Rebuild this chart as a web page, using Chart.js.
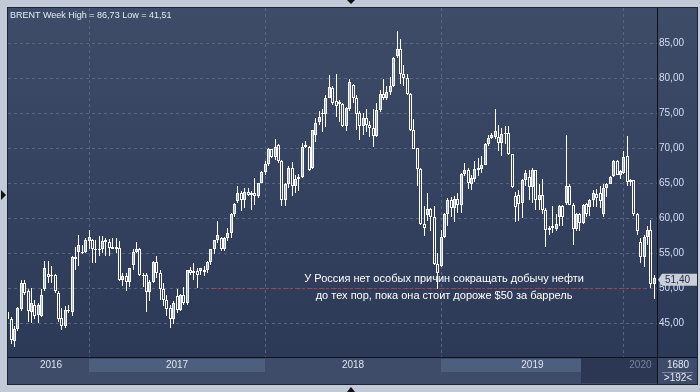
<!DOCTYPE html>
<html><head><meta charset="utf-8">
<script src="https://cdn.jsdelivr.net/npm/chart.js@4.4.1/dist/chart.umd.min.js"></script>
<style>html,body{margin:0;padding:0;background:#c2cad7;overflow:hidden}canvas{display:block}</style>
</head><body><canvas id="c" width="700" height="392"></canvas>
<script>
// ---- data (weekly BRENT candles) ----
const opens = [46.5,45.6,42.4,44.2,47.0,50.7,49.5,46.5,47.6,46.2,46.0,49.8,52.0,51.7,51.8,49.3,45.7,44.5,46.9,46.6,54.4,55.2,55.2,55.1,
56.7,56.9,55.5,55.6,55.5,56.8,56.5,55.6,55.9,55.7,51.2,51.7,50.9,53.3,55.2,55.6,51.9,51.9,49.4,50.8,53.7,52.1,49.9,48.3,47.1,45.6,48.9,46.9,49.0,47.8,52.6,52.2,52.4,52.4,52.6,52.5,53.7,55.5,56.9,57.1,55.6,57.1,57.9,60.5,62.4,63.6,62.5,63.7,63.3,63.5,63.2,65.0,
66.6,67.7,69.8,68.7,70.4,68.2,62.6,64.9,67.1,64.5,65.5,65.9,70.2,70.1,67.1,71.9,73.7,74.8,74.9,77.1,78.6,76.7,76.3,76.3,73.1,75.5,79.0,77.1,75.0,73.1,74.3,73.3,72.9,71.7,75.4,77.7,77.1,78.0,78.8,83.1,84.1,80.6,80.0,77.7,72.5,70.0,67.0,59.1,60.4,61.3,60.1,53.4,
53.1,57.3,60.6,62.6,61.4,62.7,61.9,66.3,66.9,64.8,65.6,66.8,67.0,67.6,70.5,71.4,71.6,71.6,70.7,72.0,72.1,69.2,63.2,63.3,62.1,65.4,65.9,64.4,66.8,62.6,63.3,61.2,58.3,58.6,58.4,60.1,61.7,62.1,64.6,61.9,58.4,60.5,59.3,62.0,61.6,62.6,63.4,63.6,60.6,64.3,64.9,66.0,68.1,66.2,
66.4,68.9,65.1,65.4,60.6,56.5,54.4,57.3,58.3,50.5];
const highs = [47.9,45.9,44.5,47.3,51.2,51.2,49.9,50.0,48.3,47.8,49.8,53.8,53.8,53.1,52.0,49.5,47.1,47.4,47.6,54.5,55.9,57.5,56.2,57.1,
58.3,57.0,56.9,57.4,57.4,57.1,57.0,57.2,57.1,56.7,52.1,52.1,52.9,55.5,56.5,55.7,52.1,52.1,51.2,53.8,54.6,52.6,50.7,49.0,47.6,48.1,49.8,49.1,50.1,52.6,53.0,53.6,52.9,52.9,53.1,53.8,55.6,56.9,59.5,57.3,57.3,58.6,60.7,62.1,64.6,63.8,64.3,64.3,63.8,65.7,65.0,66.7,
68.1,70.0,69.9,71.3,70.6,68.3,65.0,67.4,68.0,66.2,66.3,70.7,71.0,70.3,72.6,74.3,75.3,75.5,77.5,80.4,78.8,80.5,76.9,76.4,75.8,79.8,79.1,77.6,75.3,75.0,75.5,73.8,75.5,76.4,78.3,79.8,78.8,80.2,83.0,86.73,85.5,81.9,80.5,77.9,74.2,70.0,67.1,61.7,63.6,61.4,61.7,55.0,
58.3,60.7,62.9,63.0,63.1,63.5,66.4,67.9,67.1,66.2,68.2,68.6,68.9,70.7,71.8,72.2,75.6,73.3,72.9,73.2,73.1,69.2,63.7,64.0,65.6,66.8,66.8,67.1,66.9,64.8,65.5,61.4,58.8,61.7,60.6,61.8,61.8,71.8,64.8,62.1,60.7,60.7,62.0,62.1,62.7,64.0,64.1,64.5,64.8,65.0,66.0,68.3,68.3,66.8,
69.5,71.7,65.5,65.4,60.7,57.1,57.6,58.8,59.7,51.9];
const lows = [45.2,42.0,41.51,43.8,46.7,49.0,45.2,45.0,45.5,45.0,45.8,49.6,50.7,50.7,49.3,45.2,44.0,44.3,46.4,46.0,52.6,53.1,54.8,55.0,
55.5,53.6,53.6,54.5,55.0,54.5,54.5,55.5,55.0,51.0,50.3,49.5,50.2,52.6,55.0,51.7,50.2,46.5,48.1,50.7,51.4,48.3,47.4,46.0,44.3,44.8,46.4,46.7,47.6,47.6,51.9,51.2,50.0,51.9,51.7,52.1,53.3,54.8,56.4,55.3,55.3,56.7,57.1,60.2,62.1,61.0,61.4,63.1,61.2,61.9,62.9,65.0,
66.2,67.4,68.6,68.3,67.9,61.7,61.7,64.3,63.1,63.6,63.8,65.7,70.0,66.7,67.0,70.9,73.3,72.3,73.0,77.1,76.2,74.4,73.7,73.0,72.4,75.3,76.4,72.5,71.2,71.9,72.3,71.5,70.2,71.5,75.1,76.9,76.9,77.6,78.7,82.9,79.1,78.8,77.6,72.4,69.8,64.5,59.0,57.4,59.5,58.1,53.3,49.9,
53.0,57.1,58.9,60.1,59.4,60.7,60.7,66.0,64.1,64.0,65.2,66.0,66.4,67.5,70.3,71.3,71.3,69.5,68.9,70.5,69.0,64.3,59.4,59.5,60.0,64.6,62.6,62.1,61.2,61.2,60.6,55.9,57.6,57.9,58.2,58.8,58.9,61.9,61.8,56.1,58.1,58.2,59.1,60.1,60.3,61.6,61.5,61.4,60.2,63.0,64.8,65.9,66.2,65.6,
66.3,64.6,64.6,60.3,57.6,53.6,53.0,56.2,50.0,48.4];
const closes = [45.6,42.5,44.2,47.1,50.7,49.3,46.7,47.9,46.0,47.5,49.0,52.9,51.5,51.9,49.5,45.5,44.5,46.9,46.7,54.4,54.1,56.2,55.0,56.8,
57.3,55.5,55.6,55.5,56.7,56.5,55.7,55.9,55.5,51.2,51.7,50.9,52.8,55.2,55.6,51.9,51.8,49.4,50.9,53.7,52.2,49.9,48.3,47.0,45.6,47.8,46.9,49.0,47.9,52.6,52.2,52.4,51.9,52.8,52.3,53.7,55.6,56.9,57.5,55.6,57.1,57.9,60.5,62.0,63.6,62.6,63.7,63.3,63.5,63.2,65.0,66.6,
67.7,69.8,68.7,70.2,68.1,62.6,64.9,67.2,64.5,65.6,65.9,70.2,70.4,66.9,72.5,73.6,74.4,75.0,77.1,78.7,76.4,76.0,76.5,73.1,75.7,79.4,77.1,74.9,73.1,74.3,73.3,72.9,71.7,75.4,77.7,77.1,78.0,78.8,82.8,84.1,80.6,80.0,77.7,72.5,69.9,67.0,59.2,58.6,61.3,60.1,53.4,52.2,
57.3,60.6,62.6,61.4,62.7,61.8,66.3,66.9,65.0,65.7,67.0,67.1,67.6,70.5,71.4,71.9,72.4,70.7,72.0,72.1,69.2,64.4,61.6,62.0,65.4,66.4,64.4,66.8,62.6,63.3,61.2,58.3,58.6,58.8,59.2,61.7,60.2,64.6,61.9,58.4,60.5,59.3,61.9,60.5,62.5,63.5,62.8,62.4,64.3,64.8,65.9,68.1,66.2,66.7,
68.7,65.1,65.4,60.5,58.1,54.4,57.3,58.3,50.5,51.4];

const yTicks = [45, 50, 55, 60, 65, 70, 75, 80, 85];
const yearLabels = ['2016', '2017', '2018', '2019', '2020'];
const yearStartIndex = [-28, 24, 76, 128, 182];   // first weekly bar of each year
const titleText = 'BRENT Week High = 86,73 Low = 41,51';
const noteLines = ['У Россия нет особых причин сокращать добычу нефти', 'до тех пор, пока она стоит дороже $50 за баррель'];
const refLevel = 50;            // red dotted level
const refFrom = 60, refTo = 188.8;
const totalBars = 1680;
const xView = [0.07, 191.8];
const yView = [40.14, 90];

const N = closes.length;
const idx = closes.map((_, i) => i);
const upFill = '#a3b7db';

const bodyData = idx.map(i => ({x: i, y: [opens[i], closes[i]]}));
const upperWick = idx.map(i => ({x: i, y: [Math.max(opens[i], closes[i]), highs[i]]}));
const lowerWick = idx.map(i => ({x: i, y: [lows[i], Math.min(opens[i], closes[i])]}));
const bodyColors = idx.map(i => closes[i] >= opens[i] ? upFill : 'rgba(0,0,0,0)');

const FONT = '"Liberation Sans", Arial, sans-serif';

const snap = {
  id: 'snap',
  beforeDatasetsDraw(chart) {
    chart.data.datasets.forEach((ds, di) => {
      const meta = chart.getDatasetMeta(di);
      meta.data.forEach(el => {
        el.x = Math.round(el.x - 0.5) + 0.5;
        let a = Math.round(el.y), b = Math.round(el.base);
        if (di === 2 && Math.abs(a - b) < 1) b = a + 1;
        el.y = a; el.base = b;
      });
    });
  }
};

const bg = {
  id: 'bg',
  beforeDraw(chart) {
    const {ctx, chartArea: a, scales: {x}} = chart;
    const R = a.right + 40, B = a.bottom + 27;
    ctx.save();
    ctx.fillStyle = '#c2cad7';
    ctx.fillRect(0, 0, chart.width, chart.height);
    const g = ctx.createLinearGradient(0, a.top, 0, a.bottom);
    g.addColorStop(0, '#3f4c68');
    g.addColorStop(1, '#2c3957');
    ctx.fillStyle = g;
    ctx.fillRect(a.left, a.top, R - a.left, a.bottom - a.top);
    // axis band
    ctx.fillStyle = '#3e4c6a';
    ctx.fillRect(a.left, a.bottom, R - a.left, B - a.bottom);
    const px = v => Math.max(a.left, Math.min(a.right, Math.round(x.getPixelForValue(v))));
    const overlayL = px(169.3);
    ctx.fillStyle = '#4e5e7d';
    for (let k = 0; k < yearStartIndex.length; k++) {
      if (k % 2 === 1) {
        const l = px(yearStartIndex[k]);
        let r = k + 1 < yearStartIndex.length ? px(yearStartIndex[k + 1]) : a.right;
        r = Math.min(r, overlayL);
        ctx.fillRect(l, a.bottom + 2, r - l, 13);
      }
    }
    ctx.fillStyle = '#2c3853';
    ctx.fillRect(overlayL, a.bottom + 1, a.right - overlayL, B - a.bottom - 2);
    ctx.restore();
  },
  beforeDatasetsDraw(chart) {
    const {ctx, chartArea: a, scales: {x, y}} = chart;
    ctx.save();
    ctx.strokeStyle = '#566580';
    ctx.lineWidth = 1;
    ctx.setLineDash([3, 3]);
    yTicks.forEach(v => {
      const py = Math.round(y.getPixelForValue(v)) + 0.5;
      ctx.beginPath(); ctx.moveTo(a.left, py); ctx.lineTo(a.right, py); ctx.stroke();
    });
    yearStartIndex.forEach(v => {
      const p = x.getPixelForValue(v);
      if (p < a.left || p > a.right) return;
      const pxl = Math.round(p - 0.5) + 0.5;
      ctx.beginPath(); ctx.moveTo(pxl, a.top); ctx.lineTo(pxl, a.bottom); ctx.stroke();
    });
    ctx.restore();
  },
  afterDatasetsDraw(chart) {
    const {ctx, chartArea: a, scales: {x, y}} = chart;
    ctx.save();
    ctx.strokeStyle = '#c8303c';
    ctx.setLineDash([2, 2]);
    const py = Math.round(y.getPixelForValue(refLevel)) + 0.5;
    ctx.beginPath(); ctx.moveTo(x.getPixelForValue(refFrom), py); ctx.lineTo(x.getPixelForValue(refTo), py); ctx.stroke();
    ctx.setLineDash([]);
    ctx.fillStyle = '#ffffff';
    ctx.font = '11px ' + FONT;
    ctx.textAlign = 'center';
    ctx.textBaseline = 'middle';
    const cx = x.getPixelForValue(128.9);
    ctx.fillText(noteLines[0], cx, y.getPixelForValue(51.25));
    ctx.fillText(noteLines[1], cx, y.getPixelForValue(48.8));
    ctx.restore();
  },
  afterDraw(chart) {
    const {ctx, chartArea: a, scales: {x, y}} = chart;
    const R = a.right + 40, B = a.bottom + 27;
    ctx.save();
    // separators
    ctx.fillStyle = '#0c111b';
    ctx.fillRect(a.right, a.top, 1, B - a.top);
    ctx.fillRect(a.left, a.bottom, R - a.left, 1);
    // panel border
    ctx.strokeStyle = '#1c2433';
    ctx.strokeRect(a.left - 0.5, a.top - 0.5, R - a.left + 1, B - a.top + 1);
    // year labels
    ctx.font = '10px ' + FONT;
    ctx.textAlign = 'center';
    ctx.textBaseline = 'middle';
    for (let k = 0; k < yearLabels.length; k++) {
      const l = Math.max(a.left + 5, x.getPixelForValue(yearStartIndex[k]));
      const r = k + 1 < yearStartIndex.length ? x.getPixelForValue(yearStartIndex[k + 1]) : a.right;
      ctx.fillStyle = k === yearLabels.length - 1 ? '#76849e' : '#dbe4f3';
      ctx.fillText(yearLabels[k], (l + r) / 2, a.bottom + 8.5);
    }
    // bottom-right box
    ctx.fillStyle = '#e6ecf5';
    ctx.fillText(String(totalBars), a.right + 21, a.bottom + 8.5);
    ctx.fillText('>' + N + '<', a.right + 21, a.bottom + 21);
    ctx.fillStyle = '#7a879e';
    ctx.fillRect(a.right + 5, a.bottom + 15, 31, 1);
    // title
    ctx.textAlign = 'left';
    ctx.textBaseline = 'alphabetic';
    ctx.font = '9px ' + FONT;
    ctx.fillStyle = '#e6ecf5';
    ctx.fillText(titleText, a.left + 2, a.top + 10);
    // last price tag
    const last = closes[N - 1];
    const yp = y.getPixelForValue(last) + 1.5;
    ctx.fillStyle = '#c9ced7';
    ctx.beginPath();
    ctx.moveTo(a.right + 1, yp);
    ctx.lineTo(a.right + 5, yp - 6);
    ctx.lineTo(R, yp - 6);
    ctx.lineTo(R, yp + 6);
    ctx.lineTo(a.right + 5, yp + 6);
    ctx.closePath();
    ctx.fill();
    ctx.fillStyle = '#1c2b4a';
    ctx.font = '10px ' + FONT;
    ctx.textBaseline = 'middle';
    ctx.fillText(last.toFixed(2).replace('.', ','), a.right + 8, yp + 0.5);
    // little frame arrows
    ctx.fillStyle = '#111';
    ctx.beginPath(); ctx.moveTo(347, 0); ctx.lineTo(355, 0); ctx.lineTo(351, 4); ctx.closePath(); ctx.fill();
    ctx.beginPath(); ctx.moveTo(347, 392); ctx.lineTo(355, 392); ctx.lineTo(351, 387); ctx.closePath(); ctx.fill();
    ctx.beginPath(); ctx.moveTo(1, 190); ctx.lineTo(6, 195); ctx.lineTo(1, 200); ctx.closePath(); ctx.fill();
    ctx.restore();
  }
};

new Chart(document.getElementById('c'), {
  type: 'bar',
  data: {
    datasets: [
      {data: upperWick, backgroundColor: '#ffffff', borderWidth: 0, barThickness: 1, stack: 's', inflateAmount: 0, clip: 0},
      {data: lowerWick, backgroundColor: '#ffffff', borderWidth: 0, barThickness: 1, stack: 's', inflateAmount: 0, clip: 0},
      {data: bodyData, backgroundColor: bodyColors, borderColor: '#ffffff', borderWidth: 1, borderSkipped: false,
       barThickness: 3, stack: 's', inflateAmount: 0, clip: 0}
    ]
  },
  options: {
    responsive: false,
    animation: false,
    devicePixelRatio: 1,
    layout: {padding: {left: 8, top: 8, right: 3, bottom: 35}},
    plugins: {legend: {display: false}, tooltip: {enabled: false}},
    scales: {
      x: {type: 'linear', display: false, stacked: true, offset: false, min: xView[0], max: xView[1]},
      y: {
        position: 'right', stacked: false, min: yView[0], max: yView[1],
        grid: {display: false, drawTicks: false},
        border: {display: false},
        afterBuildTicks: s => { s.ticks = yTicks.map(v => ({value: v})); },
        afterFit: s => { s.width = 40; },
        ticks: {color: '#d2def2', font: {size: 10, family: FONT}, padding: 2,
                callback: v => Number(v).toFixed(2).replace('.', ',')}
      }
    }
  },
  plugins: [bg, snap]
});
</script>
</body></html>
